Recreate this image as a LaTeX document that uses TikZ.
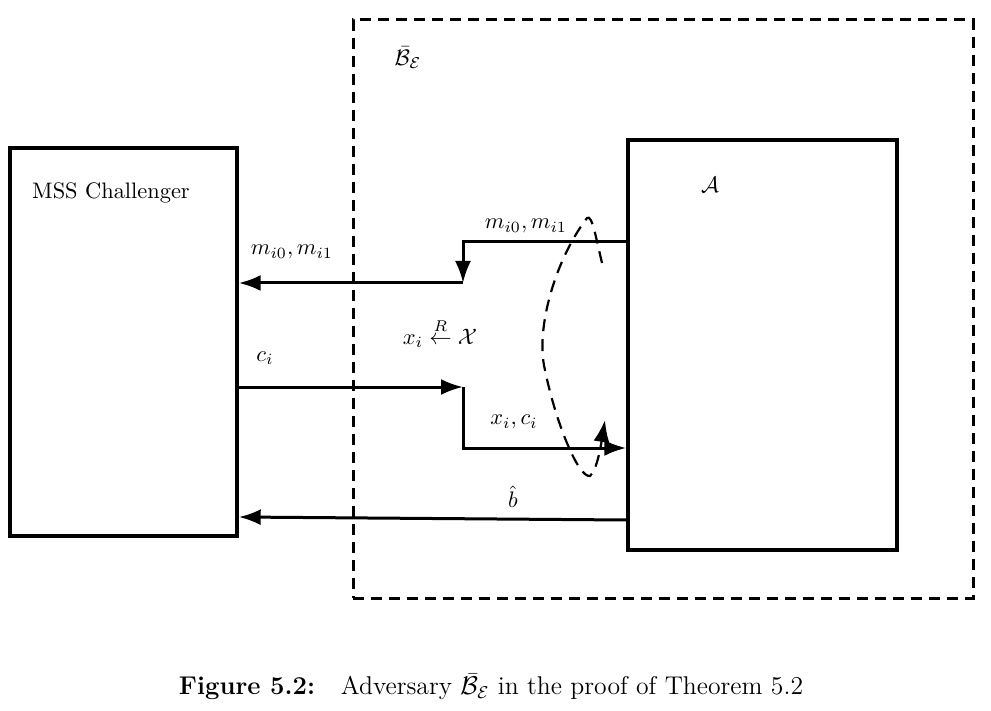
\documentclass[tikz,border=0pt]{standalone}
\usepackage{amsmath}
\usetikzlibrary{arrows.meta,positioning}

\begin{document}
\begin{tikzpicture}[x=0.5pt,y=-0.5pt,>={Latex[length=11pt,width=8pt]},line width=1.5pt,
	lbl/.style={scale=1.12},
	party/.style={draw,rectangle,line width=1.7pt,inner sep=0pt},
	bigbox/.style={draw,line width=1.5pt,dash pattern=on 5.5pt off 3.5pt},
	loopline/.style={line width=1.1pt,dash pattern=on 6pt off 4pt}]

\useasboundingbox (0,0) rectangle (991,711);

\node[party,minimum width=113.5pt,minimum height=194pt]   (mss)   at (123.5,342)  {};
\node[party,minimum width=134.5pt,minimum height=205pt]   (adv)   at (762.5,345)  {};
\node[bigbox,minimum width=310pt,minimum height=289pt]    (bee)   at (663,309)    {};

\node[lbl]   (beename)   at (408,58)    {$\bar{\mathcal{B}}_{\mathcal{E}}$};
\node[lbl]   (mssname)   at (111,193)   {MSS Challenger};
\node[lbl]   (advname)   at (710,185)   {$\mathcal{A}$};

\coordinate (m1) at (463,242);
\coordinate (m2) at (463,283);
\coordinate (c1) at (463,387);
\coordinate (c2) at (463,448);

	\draw[->] (adv.west |- m1) -- (m1) -- (m2);
	\draw[->] (m2) -- (mss.east |- m2);
	\draw[->] (mss.east |- c1) -- (c1);
	\draw[->] (c1) -- (c2) -- (adv.west |- c2);
	\draw[->] ([yshift=-87.5pt]adv.west) -- ([yshift=-87.5pt]mss.east);

\node[lbl]   (mleft)   at (292,252)   {$m_{i0},m_{i1}$};
\node[lbl]   (mright)  at (526,226)   {$m_{i0},m_{i1}$};
\node[lbl]   (pick)    at (440,333)   {$x_i \stackrel{R}{\leftarrow} \mathcal{X}$};
\node[lbl]   (cname)   at (265,358)   {$c_i$};
\node[lbl]   (xc)      at (514,422)   {$x_i,c_i$};
\node[lbl]   (bhat)    at (513,497)   {$\hat{b}$};

\coordinate (l1) at (602,263);
\coordinate (l2) at (605,420);
	\draw[loopline,->] (l1) .. controls (596,238) and (592,214) .. (587,218)
		.. controls (555,260) and (535,330) .. (545,370)
		.. controls (555,420) and (578,478) .. (590,476)
		.. controls (597,470) and (601,445) .. (l2);

\node[scale=1.07]   (caption) at (491,687) {\large\textbf{Figure 5.2:}\quad Adversary $\bar{\mathcal{B}}_{\mathcal{E}}$ in the proof of Theorem 5.2};
\end{tikzpicture}
\end{document}
